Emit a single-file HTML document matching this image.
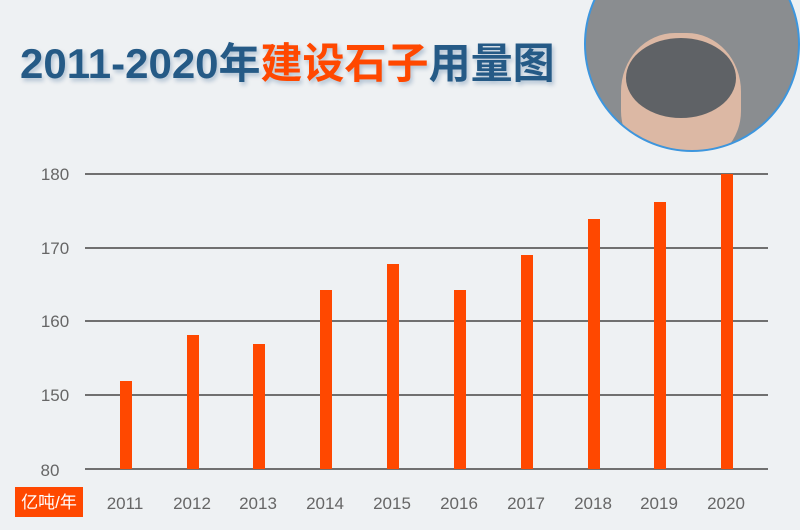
<!DOCTYPE html>
<html><head><meta charset="utf-8"><style>
body{margin:0;width:800px;height:530px;overflow:hidden;background:#eef1f3;font-family:"Liberation Sans","Noto Sans CJK SC",sans-serif;position:relative}
.t{position:absolute;left:20px;top:30px;font-size:42px;font-weight:bold;color:#255a86;letter-spacing:0px;white-space:nowrap;text-shadow:2px 3px 4px rgba(0,60,120,.25);font-family:"Liberation Sans","Noto Sans CJK SC",sans-serif}
.t span{color:#ff4800}
.circ{position:absolute;left:584px;top:-64px;width:212px;height:212px;border-radius:50%;border:2px solid #3d96de;overflow:hidden;background:#8a8d90}
.hand{position:absolute;left:35px;top:95px;width:120px;height:130px;border-radius:45% 45% 40% 40%;background:#dcb8a4}
.rocks{position:absolute;left:40px;top:100px;width:110px;height:80px;border-radius:50%;background:#5f6266}
</style></head><body>
<div class="circ"><div class="hand"></div><div class="rocks"></div></div>
<div class="t">2011-2020年<span>建设石子</span>用量图</div>
<svg width="800" height="530" style="position:absolute;left:0;top:0">
<g stroke="#707070" stroke-width="2">
<line x1="85" x2="768" y1="174" y2="174"/><line x1="85" x2="768" y1="248" y2="248"/><line x1="85" x2="768" y1="321" y2="321"/><line x1="85" x2="768" y1="395" y2="395"/><line x1="85" x2="768" y1="469" y2="469"/>
</g>
<g font-family="Liberation Sans" font-size="17" fill="#666" text-anchor="middle">
<text x="55" y="180">180</text><text x="55" y="254">170</text><text x="55" y="327">160</text><text x="55" y="401">150</text><text x="50" y="476">80</text>
<text x="125" y="509">2011</text><text x="192" y="509">2012</text><text x="258" y="509">2013</text><text x="325" y="509">2014</text><text x="392" y="509">2015</text><text x="459" y="509">2016</text><text x="526" y="509">2017</text><text x="593" y="509">2018</text><text x="659" y="509">2019</text><text x="726" y="509">2020</text>
</g>
<g fill="#ff4800">
<rect x="120" y="381" width="12" height="88"/><rect x="187" y="335" width="12" height="134"/><rect x="253" y="344" width="12" height="125"/><rect x="320" y="290" width="12" height="179"/><rect x="387" y="264" width="12" height="205"/><rect x="454" y="290" width="12" height="179"/><rect x="521" y="255" width="12" height="214"/><rect x="588" y="219" width="12" height="250"/><rect x="654" y="202" width="12" height="267"/><rect x="721" y="174" width="12" height="295"/>
</g>
<rect x="15" y="487" width="68" height="30" fill="#ff4800"/>
<text x="49" y="508" font-family="Liberation Sans,Noto Sans CJK SC,sans-serif" font-size="17" fill="#fff" text-anchor="middle">亿吨/年</text>
</svg>
</body></html>
